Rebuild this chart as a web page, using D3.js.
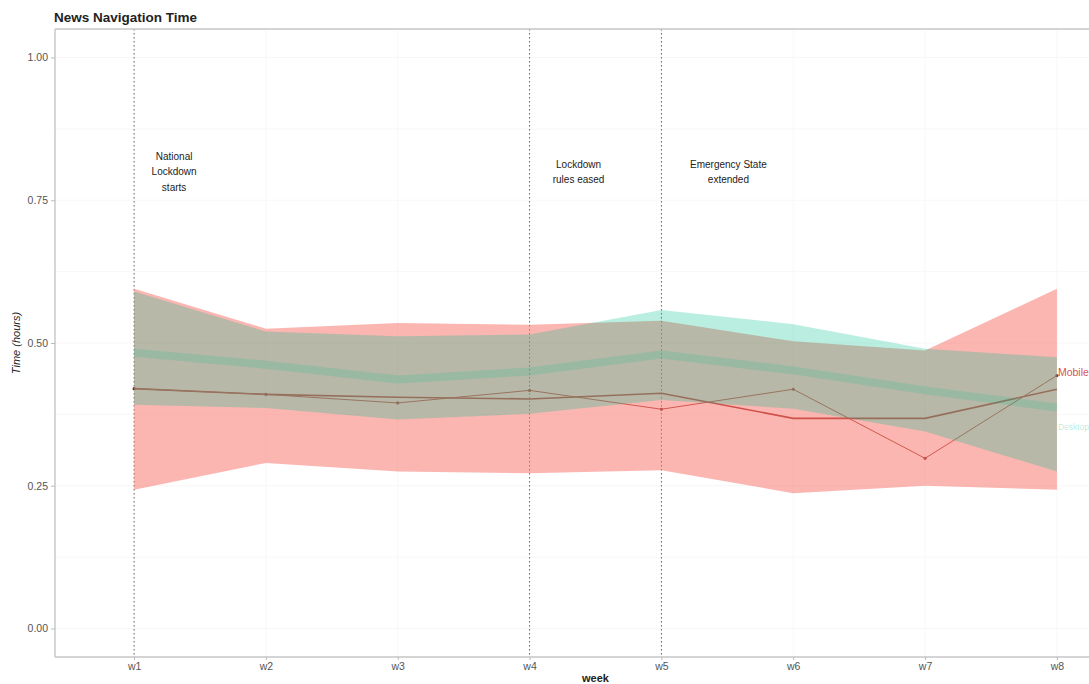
<!DOCTYPE html>
<html>
<head>
<meta charset="utf-8">
<script src="https://cdn.jsdelivr.net/npm/d3@7"></script>
<style>
  html, body { margin: 0; padding: 0; background: #fff; }
  svg { display: block; font-family: "Liberation Sans", Arial, sans-serif; }
</style>
</head>
<body>
<svg id="chart" width="1089" height="684"></svg>
<script>
// Weekly news navigation time (hours), mobile vs desktop
const weeks = ["w1", "w2", "w3", "w4", "w5", "w6", "w7", "w8"];
const yTicks = [0, 0.25, 0.5, 0.75, 1];

// Mobile: confidence band and two trend lines
const mobileUpper = [0.595, 0.525, 0.535, 0.532, 0.539, 0.503, 0.487, 0.595];
const mobileLower = [0.243, 0.290, 0.275, 0.272, 0.277, 0.237, 0.250, 0.243];
const mobileSmooth = [0.420, 0.410, 0.405, 0.402, 0.412, 0.368, 0.368, 0.419];
const mobileObserved = [0.420, 0.410, 0.395, 0.417, 0.384, 0.419, 0.298, 0.443];

// Desktop: confidence band and mean line
const desktopUpper = [0.590, 0.520, 0.512, 0.515, 0.558, 0.533, 0.490, 0.475];
const desktopLower = [0.392, 0.386, 0.366, 0.376, 0.400, 0.385, 0.345, 0.275];
const desktopMean = [0.483, 0.462, 0.436, 0.450, 0.480, 0.452, 0.417, 0.387];

// Event markers
const events = [
  { week: "w1", lines: ["National", "Lockdown", "starts"], dx: 40, y0: 156 },
  { week: "w4", lines: ["Lockdown", "rules eased"], dx: 49, y0: 164 },
  { week: "w5", lines: ["Emergency State", "extended"], dx: 67, y0: 164 }
];

const svg = d3.select("#chart");
const panel = { left: 55, right: 1136, top: 29, bottom: 657 };

const x = d3.scalePoint().domain(weeks).range([panel.left, panel.right]).padding(0.6);
const y = d3.scaleLinear().domain([-0.05, 1.05]).range([panel.bottom, panel.top]);

const RED = "#F8766D";
const TEAL = "#00C08B";

// faint grid
const grid = svg.append("g");
const gridVals = d3.range(0, 1.01, 0.125);
grid.selectAll("line.h").data(gridVals).join("line")
  .attr("x1", panel.left).attr("x2", panel.right)
  .attr("y1", d => y(d)).attr("y2", d => y(d))
  .attr("stroke", "#f7f7f7").attr("stroke-width", 1);
grid.selectAll("line.v").data(weeks).join("line")
  .attr("x1", d => x(d)).attr("x2", d => x(d))
  .attr("y1", panel.top).attr("y2", panel.bottom)
  .attr("stroke", "#f7f7f7").attr("stroke-width", 1);

// event lines
svg.append("g").selectAll("line").data(events).join("line")
  .attr("x1", d => x(d.week)).attr("x2", d => x(d.week))
  .attr("y1", panel.top).attr("y2", panel.bottom)
  .attr("stroke", "#555").attr("stroke-width", 0.9)
  .attr("stroke-dasharray", "1.5,2.5");

const line = d3.line().x((d, i) => x(weeks[i])).y(d => y(d));
const area = (up, lo) => d3.area()
  .x((d, i) => x(weeks[i]))
  .y0((d, i) => y(lo[i]))
  .y1((d, i) => y(up[i]));

// trend lines (beneath the bands)
svg.append("path").datum(mobileSmooth)
  .attr("d", line).attr("fill", "none")
  .attr("stroke", "#a02a22").attr("stroke-width", 1.6);
svg.append("path").datum(mobileObserved)
  .attr("d", line).attr("fill", "none")
  .attr("stroke", "#a8372f").attr("stroke-width", 1);
svg.append("g").selectAll("circle").data(mobileObserved).join("circle")
  .attr("cx", (d, i) => x(weeks[i])).attr("cy", d => y(d))
  .attr("r", 1.6).attr("fill", "#8a2a24");

// bands
svg.append("path").datum(mobileUpper)
  .attr("d", area(mobileUpper, mobileLower))
  .attr("fill", RED).attr("fill-opacity", 0.53);
svg.append("path").datum(desktopUpper)
  .attr("d", area(desktopUpper, desktopLower))
  .attr("fill", TEAL).attr("fill-opacity", 0.27);

// desktop mean line
svg.append("path").datum(desktopMean)
  .attr("d", line).attr("fill", "none")
  .attr("stroke", TEAL).attr("stroke-opacity", 0.16)
  .attr("stroke-width", 8).attr("stroke-linejoin", "round");

// series labels
svg.append("text")
  .attr("x", x("w8") + 1).attr("y", y(0.450) + 4)
  .attr("font-size", 10.5).attr("fill", "#d9534f")
  .text("Mobile");
svg.append("text")
  .attr("x", x("w8") + 1).attr("y", y(0.352) + 3)
  .attr("font-size", 8.5).attr("fill", TEAL).attr("fill-opacity", 0.3)
  .text("Desktop");

// event annotations
const ann = svg.append("g").attr("font-size", 10).attr("fill", "#222").attr("text-anchor", "middle");
events.forEach(ev => {
  ev.lines.forEach((t, i) => {
    ann.append("text")
      .attr("x", x(ev.week) + ev.dx)
      .attr("y", ev.y0 + i * 15.5 + 3.5)
      .text(t);
  });
});

// axes frame
const frame = svg.append("g").attr("stroke", "#c6c6c6").attr("stroke-width", 1.4);
frame.append("line").attr("x1", panel.left).attr("x2", panel.left).attr("y1", panel.top).attr("y2", panel.bottom);
frame.append("line").attr("x1", panel.left).attr("x2", panel.right).attr("y1", panel.bottom).attr("y2", panel.bottom);
frame.append("line").attr("x1", panel.left).attr("x2", panel.right).attr("y1", panel.top).attr("y2", panel.top);

// y axis
const yAxis = svg.append("g").attr("transform", `translate(${panel.left},0)`)
  .call(d3.axisLeft(y).tickValues(yTicks).tickFormat(d3.format(".2f")).tickSize(4).tickPadding(3));
yAxis.select(".domain").remove();
yAxis.selectAll(".tick line").attr("stroke", "#bbb");
yAxis.selectAll(".tick text").attr("fill", "#555").attr("font-size", 10.5)
  .attr("font-family", "Liberation Sans, Arial, sans-serif");

// x axis
const xAxis = svg.append("g").attr("transform", `translate(0,${panel.bottom})`)
  .call(d3.axisBottom(x).tickSize(3).tickPadding(3));
xAxis.select(".domain").remove();
xAxis.selectAll(".tick line").attr("stroke", "#bbb");
xAxis.selectAll(".tick text").attr("fill", "#555").attr("font-size", 10.5)
  .attr("font-family", "Liberation Sans, Arial, sans-serif");

// titles
svg.append("text")
  .attr("x", 54).attr("y", 22)
  .attr("font-size", 13.5).attr("font-weight", "bold").attr("fill", "#222")
  .text("News Navigation Time");
svg.append("text")
  .attr("x", (panel.left + panel.right) / 2).attr("y", 682)
  .attr("text-anchor", "middle").attr("font-size", 11).attr("font-weight", "bold").attr("fill", "#222")
  .text("week");
svg.append("text")
  .attr("transform", `translate(20,${(panel.top + panel.bottom) / 2}) rotate(-90)`)
  .attr("text-anchor", "middle").attr("font-size", 11).attr("font-style", "italic").attr("fill", "#222")
  .text("Time (hours)");
</script>
</body>
</html>
